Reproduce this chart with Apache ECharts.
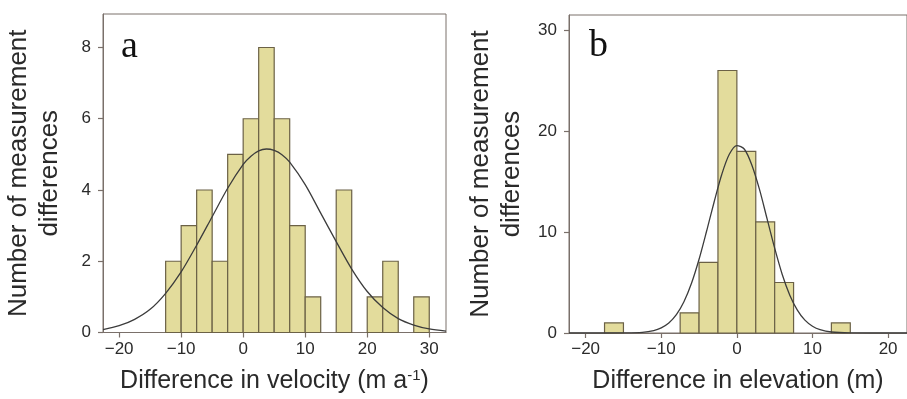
<!DOCTYPE html>
<html>
<head>
<meta charset="utf-8">
<script src="https://cdn.jsdelivr.net/npm/echarts@6/dist/echarts.min.js"></script>
<style>
  html, body { margin: 0; padding: 0; background: #fff; }
  #chart { width: 907px; height: 399px; }
</style>
</head>
<body>
<div id="chart"></div>
<script>
// histogram bins (left edge of each 2.5-wide bin) and counts
const binWidth = 2.5
const velBinStart = [-12.5, -10, -7.5, -5, -2.5, 0, 2.5, 5, 7.5, 10, 12.5, 15, 17.5, 20, 22.5, 25, 27.5]
const velCounts = [2, 3, 4, 2, 5, 6, 8, 6, 3, 1, 0, 4, 0, 1, 2, 0, 1]
const elevBinStart = [-17.5, -15, -12.5, -10, -7.5, -5, -2.5, 0, 2.5, 5, 7.5, 10, 12.5]
const elevCounts = [1, 0, 0, 0, 2, 7, 26, 18, 11, 5, 0, 0, 1]

// fitted curves
const velCurveX = [-22.6, -20, -17.5, -15, -12.5, -10, -7.5, -5, -2.5, 0, 1.25, 2.5, 3.75, 5, 6.25, 7.5, 10, 12.5, 15, 17.5, 20, 22.5, 25, 27.5, 30, 32.7]
const velCurveY = [0.08, 0.19, 0.37, 0.65, 1.1, 1.7, 2.45, 3.25, 4.05, 4.72, 4.95, 5.1, 5.15, 5.11, 4.99, 4.78, 4.15, 3.35, 2.55, 1.78, 1.15, 0.7, 0.39, 0.21, 0.1, 0.04]
const elevCurveX = [-22.2, -17.5, -15, -12.5, -11, -10, -9, -8, -7, -6, -5, -4, -3, -2, -1, 0, 1, 2, 3, 4, 5, 6, 7, 8, 9, 10, 11, 12.5, 15, 17.5, 22.5]
const elevCurveY = [0, 0, 0.01, 0.07, 0.24, 0.51, 0.99, 1.81, 3.09, 4.92, 7.3, 10.1, 13.0, 15.7, 17.7, 18.57, 18.2, 16.6, 14.2, 11.3, 8.4, 5.8, 3.75, 2.27, 1.27, 0.67, 0.33, 0.1, 0.01, 0, 0]

// tick labels
const velXTicks = [-20, -10, 0, 10, 20, 30]
const velYTicks = [0, 2, 4, 6, 8]
const elevXTicks = [-20, -10, 0, 10, 20]
const elevYTicks = [0, 10, 20, 30]

const yName = 'Number of measurement\ndifferences'
const velName = 'Difference in velocity (m a{sup|-1})'
const elevName = 'Difference in elevation (m)'

const frame = '#7a706a'
const textColor = '#2a2a2a'
const font = 'Liberation Sans'

const chart = echarts.init(document.getElementById('chart'))

const toBins = (starts, counts) =>
  starts.map((s, i) => [s, counts[i]]).filter(d => d[1] > 0)

const histItem = (params, api) => {
  const x0 = api.value(0)
  const c = api.value(1)
  const p0 = api.coord([x0, 0])
  const p1 = api.coord([x0 + binWidth, c])
  return {
    type: 'rect',
    shape: { x: p0[0], y: p1[1], width: p1[0] - p0[0], height: p0[1] - p1[1] },
    style: { fill: '#e3dc9c', stroke: '#6b6146', lineWidth: 1.2 }
  }
}

const xAxisBase = (idx, min, max, ticks, name) => ({
  type: 'value',
  gridIndex: idx,
  min, max,
  name,
  nameLocation: 'middle',
  nameGap: 36,
  nameTextStyle: {
    fontFamily: font, fontSize: 25, color: textColor,
    rich: { sup: { fontFamily: font, fontSize: 15, color: textColor, padding: [0, 0, 11, 0] } }
  },
  axisLine: { show: true, onZero: false, lineStyle: { color: frame, width: 1 } },
  axisTick: { show: true, length: 5, customValues: ticks, lineStyle: { color: frame, width: 1.2 } },
  axisLabel: { customValues: ticks, margin: 8, fontFamily: font, fontSize: 17, color: textColor,
    formatter: v => String(v).replace('-', '\u2212') },
  splitLine: { show: false }
})

const yAxisBase = (idx, max, ticks, gap) => ({
  type: 'value',
  gridIndex: idx,
  min: 0, max,
  name: yName,
  nameLocation: 'middle',
  nameRotate: 90,
  nameGap: gap,
  nameTextStyle: { fontFamily: font, fontSize: 26, color: textColor, lineHeight: 31 },
  axisLine: { show: true, onZero: false, lineStyle: { color: frame, width: 1 } },
  axisTick: { show: true, length: 5, customValues: ticks, lineStyle: { color: frame, width: 1.2 } },
  axisLabel: { customValues: ticks, margin: 12, fontFamily: font, fontSize: 17, color: textColor },
  splitLine: { show: false }
})

const option = {
  animation: false,
  backgroundColor: '#fff',
  grid: [
    { left: 103, top: 14, right: 461, bottom: 63, show: true, borderColor: frame, borderWidth: 1 },
    { left: 569, top: 15, right: -11, bottom: 63, show: true, borderColor: frame, borderWidth: 1 }
  ],
  xAxis: [
    xAxisBase(0, -22.6, 32.7, velXTicks, velName),
    xAxisBase(1, -22.2, 22.5, elevXTicks, elevName)
  ],
  yAxis: [
    yAxisBase(0, 8.94, velYTicks, 38),
    yAxisBase(1, 31.5, elevYTicks, 42)
  ],
  graphic: [
    { type: 'text', left: 121, top: 28, style: { text: 'a', fontFamily: 'Liberation Serif', fontSize: 38, fill: '#111' } },
    { type: 'text', left: 589, top: 27, style: { text: 'b', fontFamily: 'Liberation Serif', fontSize: 38, fill: '#111' } }
  ],
  series: [
    {
      type: 'custom', xAxisIndex: 0, yAxisIndex: 0,
      data: toBins(velBinStart, velCounts), encode: { x: 0, y: 1 },
      renderItem: histItem
    },
    {
      type: 'line', xAxisIndex: 0, yAxisIndex: 0, smooth: 0.3, showSymbol: false,
      data: velCurveX.map((x, i) => [x, velCurveY[i]]),
      lineStyle: { color: '#3c3c3c', width: 1.3 }
    },
    {
      type: 'custom', xAxisIndex: 1, yAxisIndex: 1,
      data: toBins(elevBinStart, elevCounts), encode: { x: 0, y: 1 },
      renderItem: histItem
    },
    {
      type: 'line', xAxisIndex: 1, yAxisIndex: 1, smooth: 0.3, showSymbol: false,
      data: elevCurveX.map((x, i) => [x, elevCurveY[i]]),
      lineStyle: { color: '#3c3c3c', width: 1.3 }
    }
  ]
}

chart.setOption(option)
</script>
</body>
</html>
